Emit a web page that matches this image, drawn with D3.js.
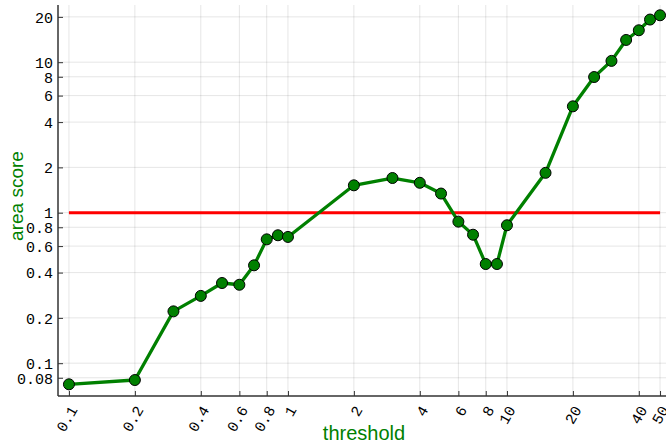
<!DOCTYPE html>
<html>
<head>
<meta charset="utf-8">
<script src="https://cdn.jsdelivr.net/npm/d3@7"></script>
<style>
  body { margin: 0; background: #fff; }
  svg { display: block; }
</style>
</head>
<body>
<svg id="chart" width="666" height="445"></svg>
<script>
const thresholds = [0.1, 0.2, 0.3, 0.4, 0.5, 0.6, 0.7, 0.8, 0.9, 1,
  2, 3, 4, 5, 6, 7, 8, 9, 10, 15, 20, 25, 30, 35, 40, 45, 50];
const areaScores = [0.0724, 0.0773, 0.221, 0.280, 0.341, 0.332, 0.447, 0.665, 0.708, 0.690,
  1.52, 1.70, 1.58, 1.34, 0.872, 0.714, 0.456, 0.456, 0.825, 1.84, 5.09, 7.97, 10.2, 14.05, 16.3, 19.2, 20.5];
const xTicks = [0.1, 0.2, 0.4, 0.6, 0.8, 1, 2, 4, 6, 8, 10, 20, 40, 50];
const yTicks = [0.08, 0.1, 0.2, 0.4, 0.6, 0.8, 1, 2, 4, 6, 8, 10, 20];
const refLevel = 1;

const plot = {left: 58, right: 671, top: 5, bottom: 396};
const green = "#008000";

const x = d3.scaleLog()
  .domain([Math.pow(10, -1.05), Math.pow(10, 1.749)])
  .range([plot.left, plot.right]);
const y = d3.scaleLog()
  .domain([Math.pow(10, -1.218), Math.pow(10, 1.380)])
  .range([plot.bottom, plot.top]);

const svg = d3.select("#chart");

// grid
const grid = svg.append("g").attr("stroke", "#000").attr("stroke-opacity", 0.1).attr("stroke-width", 1);
grid.selectAll("line.gx").data(xTicks).join("line")
  .attr("x1", d => x(d)).attr("x2", d => x(d))
  .attr("y1", plot.top).attr("y2", plot.bottom);
grid.selectAll("line.gy").data(yTicks).join("line")
  .attr("x1", plot.left).attr("x2", plot.right)
  .attr("y1", d => y(d)).attr("y2", d => y(d));

// axes (ticks pointing inward)
const fmt = d => String(d);
const xAxis = svg.append("g")
  .attr("transform", `translate(0,${plot.bottom})`)
  .call(d3.axisTop(x).tickValues(xTicks).tickFormat(fmt).tickSizeInner(5).tickSizeOuter(0));
xAxis.selectAll("text").remove();
xAxis.selectAll(".tick").append("text")
  .attr("transform", "translate(4,11) rotate(-60)")
  .attr("text-anchor", "end")
  .attr("dy", "0.35em")
  .attr("fill", "#000")
  .text(fmt);

const yAxis = svg.append("g")
  .attr("transform", `translate(${plot.left},0)`)
  .call(d3.axisRight(y).tickValues(yTicks).tickFormat(fmt).tickSizeInner(5).tickSizeOuter(0));
yAxis.selectAll("text").remove();
yAxis.selectAll(".tick").append("text")
  .attr("x", -5)
  .attr("dy", "0.35em")
  .attr("text-anchor", "end")
  .attr("fill", "#000")
  .text(fmt);

svg.selectAll(".domain").attr("stroke", "#333").attr("stroke-width", 1.5);
svg.selectAll(".tick line").attr("stroke", "#333");
svg.selectAll(".tick text")
  .style("font-family", "'Liberation Mono', monospace")
  .style("font-size", "15px");
yAxis.select(".domain").attr("d", `M0,${plot.top}V${plot.bottom}`);
xAxis.select(".domain").attr("d", `M${plot.left},0H${plot.right}`);

// reference line
svg.append("line")
  .attr("x1", x(thresholds[0])).attr("x2", x(thresholds[thresholds.length - 1]))
  .attr("y1", y(refLevel)).attr("y2", y(refLevel))
  .attr("stroke", "#ff0000").attr("stroke-width", 3);

// series
const points = thresholds.map((t, i) => ({t, v: areaScores[i]}));
svg.append("path")
  .datum(points)
  .attr("fill", "none")
  .attr("stroke", green)
  .attr("stroke-width", 3.3)
  .attr("stroke-linejoin", "round")
  .attr("d", d3.line().x(d => x(d.t)).y(d => y(d.v)));
svg.append("g").selectAll("circle").data(points).join("circle")
  .attr("cx", d => x(d.t))
  .attr("cy", d => y(d.v))
  .attr("r", 5.5)
  .attr("fill", green)
  .attr("stroke", "#000")
  .attr("stroke-width", 1);

// axis titles
svg.append("text")
  .attr("x", 364).attr("y", 440)
  .attr("text-anchor", "middle")
  .attr("fill", green)
  .style("font-family", "'Liberation Sans', Arial, sans-serif")
  .style("font-size", "20px")
  .text("threshold");
svg.append("text")
  .attr("transform", "translate(23,196) rotate(-90)")
  .attr("text-anchor", "middle")
  .attr("fill", green)
  .style("font-family", "'Liberation Sans', Arial, sans-serif")
  .style("font-size", "19px")
  .text("area score");
</script>
</body>
</html>
